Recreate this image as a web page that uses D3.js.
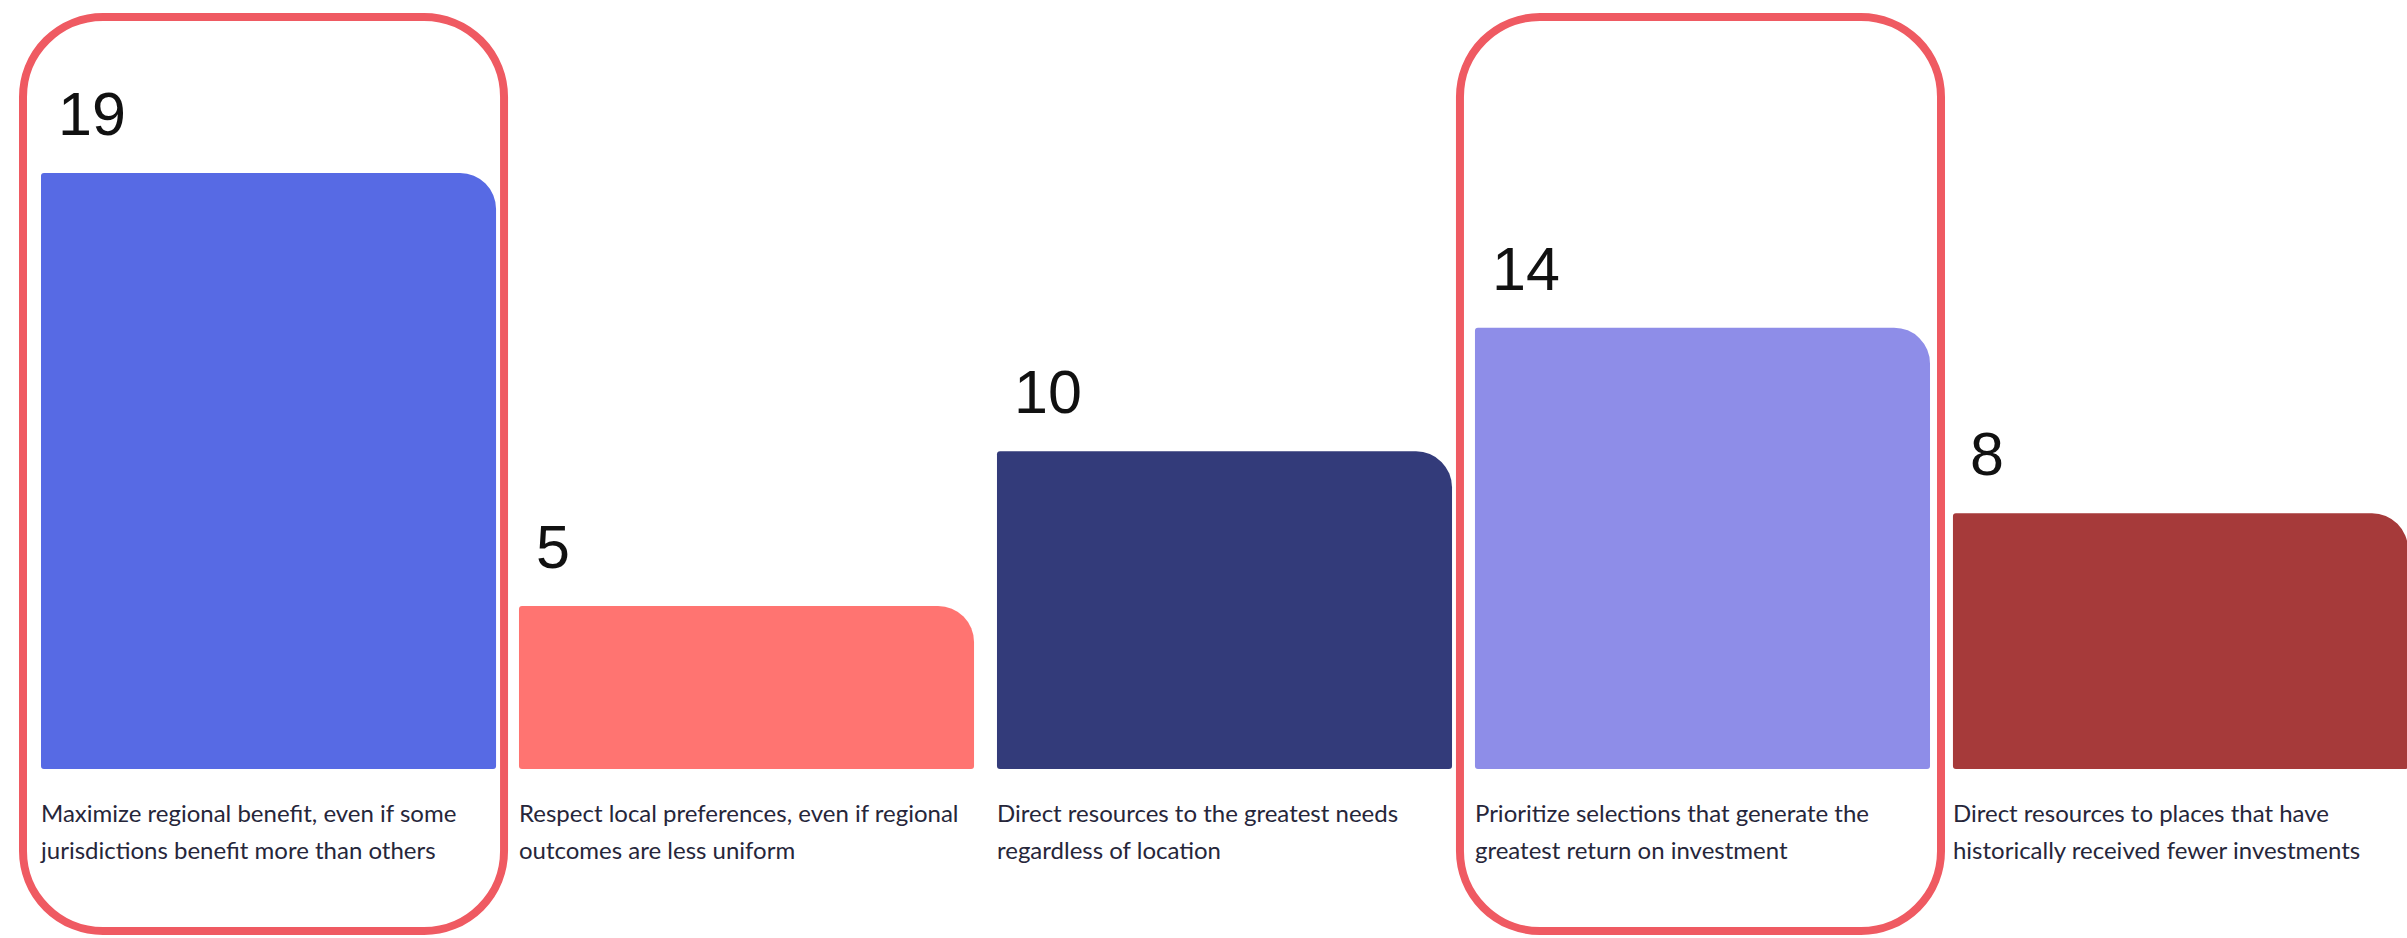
<!DOCTYPE html>
<html>
<head>
<meta charset="utf-8">
<script src="https://cdn.jsdelivr.net/npm/d3@7"></script>
<style>
  html, body { margin: 0; padding: 0; background: #fff; }
  svg { display: block; }
</style>
</head>
<body>
<div id="chart"></div>
<script>
var categories = [
    'Maximize regional benefit, even if some\njurisdictions benefit more than others',
    'Respect local preferences, even if regional\noutcomes are less uniform',
    'Direct resources to the greatest needs\nregardless of location',
    'Prioritize selections that generate the\ngreatest return on investment',
    'Direct resources to places that have\nhistorically received fewer investments'
];
var values = [19, 5, 10, 14, 8];
var colors = ['#576ae4', '#ff7471', '#333b7a', '#8e8de8', '#a63a3a'];
var highlighted = [0, 3];

var w = 2407;
var h = 938;
var baseY = 769;

var svg = d3.select('#chart')
    .append('svg')
        .attr('width', w)
        .attr('height', h);

var x = d3.scaleBand()
    .domain(d3.range(categories.length))
    .range([41, 2408])
    .paddingInner(0.048)
    .paddingOuter(0);

// bars keep a small stub at zero, so 0 sits a little above the baseline
var y = d3.scaleLinear()
    .domain([0, 19])
    .range([760.6, 173]);

function barPath(x0, y0, bw, bh) {
    var rBig = 36, r = 3;
    var p = d3.path();
    p.moveTo(x0 + r, y0);
    p.lineTo(x0 + bw - rBig, y0);
    p.arcTo(x0 + bw, y0, x0 + bw, y0 + rBig, rBig);
    p.lineTo(x0 + bw, y0 + bh - r);
    p.arcTo(x0 + bw, y0 + bh, x0 + bw - r, y0 + bh, r);
    p.lineTo(x0 + r, y0 + bh);
    p.arcTo(x0, y0 + bh, x0, y0 + bh - r, r);
    p.lineTo(x0, y0 + r);
    p.arcTo(x0, y0, x0 + r, y0, r);
    p.closePath();
    return p.toString();
}

// highlight outlines
svg.selectAll('rect.hl')
    .data(highlighted)
    .enter()
    .append('rect')
        .attr('class', 'hl')
        .attr('x', (d, i) => x(d) - 18 + i * 3)
        .attr('y', 17)
        .attr('width', x.bandwidth() + 26)
        .attr('height', 914)
        .attr('rx', 80)
        .attr('ry', 80)
        .style('fill', 'none')
        .style('stroke', '#ef5a62')
        .style('stroke-width', '8px');

svg.selectAll('path.bar')
    .data(values)
    .enter()
    .append('path')
        .attr('class', 'bar')
        .attr('d', (d, i) => barPath(x(i), y(d), x.bandwidth(), baseY - y(d)))
        .style('fill', (d, i) => colors[i]);

svg.selectAll('text.val')
    .data(values)
    .enter()
    .append('text')
        .attr('class', 'val')
        .attr('x', (d, i) => x(i) + 17)
        .attr('y', d => y(d) - 38)
        .text(d => d)
        .style('font-family', '"Liberation Sans", Arial, sans-serif')
        .style('font-size', '61px')
        .style('fill', '#111');

var labels = svg.selectAll('text.cat')
    .data(categories)
    .enter()
    .append('text')
        .attr('class', 'cat')
        .attr('x', (d, i) => x(i))
        .attr('y', 822)
        .style('font-family', 'Lato, "Noto Sans", sans-serif')
        .style('font-size', '24px')
        .style('fill', '#26263a');

labels.selectAll('tspan')
    .data(d => d.split('\n'))
    .enter()
    .append('tspan')
        .attr('x', function() { return d3.select(this.parentNode).attr('x'); })
        .attr('dy', (d, i) => i === 0 ? 0 : 37)
        .text(d => d);
</script>
</body>
</html>
